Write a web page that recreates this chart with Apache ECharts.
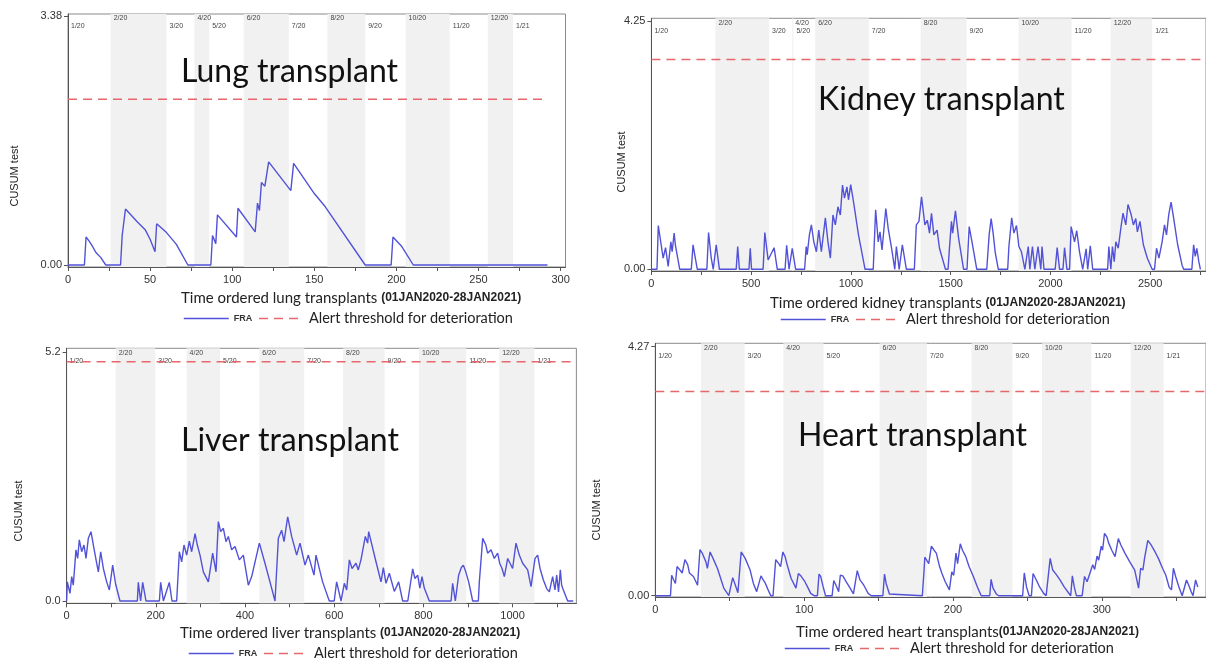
<!DOCTYPE html>
<html><head><meta charset="utf-8">
<script src="https://cdn.jsdelivr.net/npm/echarts@6/dist/echarts.min.js"></script>
<style>html,body{margin:0;padding:0;background:#fff;overflow:hidden}#c{width:1206px;height:662px}</style>
</head><body><div id="c"></div>
<script>
// ---------------- DATA ----------------
const monthLabels = ['1/20','2/20','3/20','4/20','5/20','6/20','7/20','8/20','9/20','10/20','11/20','12/20','1/21'];

const lungMonthStarts   = [0, 26, 60, 77, 86, 107, 134.5, 158, 181, 205.6, 232.5, 255.6, 271];
const kidneyMonthStarts = [0, 321, 590, 706, 712, 821, 1090, 1350, 1580, 1840, 2106, 2302, 2510];
const liverMonthStarts  = [0, 110, 199, 269, 344, 432, 533, 620, 713, 790, 896, 970, 1049];
const heartMonthStarts  = [0, 30.7, 60, 86, 113, 150.7, 182.5, 212.5, 240, 259.8, 293, 319.4, 341.5];

const lungThreshold = 2.25, kidneyThreshold = 3.59, liverThreshold = 5.00, heartThreshold = 3.50;
const lungEnd = 292, kidneyEnd = 2780, liverEnd = 1136, heartEnd = 370;
const lungYTop = 3.38, kidneyYTop = 4.25, liverYTop = 5.2, heartYTop = 4.27;
const lungXMax = 303, kidneyXMax = 2780, liverXMax = 1143, heartXMax = 370;

const lungXLabels   = [0, 50, 100, 150, 200, 250, 300];
const lungXTicks    = [0, 25, 50, 75, 100, 125, 150, 175, 200, 225, 250, 275, 300];
const kidneyXLabels = [0, 500, 1000, 1500, 2000, 2500];
const kidneyXTicks  = [0, 250, 500, 750, 1000, 1250, 1500, 1750, 2000, 2250, 2500, 2750];
const liverXLabels  = [0, 200, 400, 600, 800, 1000];
const liverXTicks   = [0, 100, 200, 300, 400, 500, 600, 700, 800, 900, 1000, 1100];
const heartXLabels  = [0, 100, 200, 300];
const heartXTicks   = [0, 50, 100, 150, 200, 250, 300, 350];

const lungFRA = [[0,0],[10,0],[11,0.38],[13,0.32],[15,0.25],[17,0.17],[20,0.1],[23,0],
 [32,0],[33,0.40],[33.6,0.40],[35,0.76],[42,0.59],[47,0.48],[50,0.35],[53,0.18],[54,0.56],[60,0.44],[66,0.28],[73,0],
 [87,0],[88,0.40],[90,0.29],[91,0.68],[102.6,0.38],[103.5,0.77],[114,0.45],[115.4,0.84],[116.6,0.74],[117.8,1.12],[119.9,1.07],[122.2,1.40],[135.7,1.01],[137.4,1.38],[150,0.97],[156.7,0.79],[181,0],
 [196.8,0],[197.9,0.38],[203.3,0.25],[210.3,0],[292,0]];

const kidneyFRA = [[0,0],[28,0],[34.5,0.75],[59,0.19],[71,0.37],[84,0.05],[97.6,0.47],[104,0.30],[114,0.62],[120,0.42],[142,0],
 [200,0],[208.7,0.42],[230,0],
 [278,0],[286.6,0.63],[300,0.19],[310,0],[324.8,0.42],[341,0],
 [425,0],[432.6,0.39],[441,0],
 [489,0],[495.6,0.36],[502,0],
 [560,0],[568.5,0.63],[585,0.16],[615,0.37],[631,0],
 [670,0],[678,0.41],[690,0],[699,0],[706,0.36],[723,0],
 [768,0],[776,0.39],[781,0.25],[792,0.59],[802,0.76],[814,0.47],[827,0.30],[839,0.67],[852,0.30],[872,0.88],[885,0.47],[897,0.19],[910,0.93],[922,0.76],[935,1.07],[947,0.93],[958,1.44],[968,1.22],[980,1.41],[988,1.19],[999,1.45],[1013,1.16],[1038,0.59],[1071,0],
 [1112,0],[1124,1.02],[1137,0.47],[1146,0.64],[1156,0.33],[1175,1.04],[1187,0.70],[1204,0.36],[1220,0],[1228,0.39],[1242,0],[1258,0.42],[1278,0],
 [1318,0],[1328,0.76],[1341,0.82],[1354,1.24],[1371,0.76],[1383,0.84],[1394,0.62],[1404,0.96],[1416,0.59],[1432,0.67],[1444,0.36],[1474,0],
 [1487,0],[1494,0.36],[1504,0.82],[1510,0.62],[1524,1.0],[1540,0.53],[1565,0],
 [1582,0],[1593,0.73],[1607,0.47],[1631,0],
 [1681,0],[1693,0.59],[1703,0.87],[1713,0.62],[1723,0.30],[1739,0],
 [1786,0],[1792,0.39],[1806,0.88],[1817,0.62],[1830,0.75],[1842,0.39],[1855,0.30],[1872,0],
 [1889,0.39],[1897,0],[1910,0.39],[1922,0],[1938,0.39],[1952,0],[1958,0.39],[1968,0],
 [2024,0],[2034,0.37],[2046,0],[2063,0],[2071,0.37],[2083,0],
 [2096,0],[2104,0.73],[2121,0.47],[2132,0.66],[2146,0.30],[2162,0],[2179,0.35],[2187,0],[2200,0.40],[2212,0],
 [2287,0],[2293,0.39],[2303,0],[2311,0.39],[2320,0.13],[2328,0.47],[2340,0.36],[2353,0.70],[2364,0.96],[2378,0.76],[2389,1.11],[2403,0.96],[2416,0.76],[2428,0.87],[2436,0.64],[2449,0.82],[2466,0.42],[2486,0.19],[2510,0],
 [2522,0],[2532,0.36],[2544,0.19],[2560,0.47],[2572,0.76],[2582,0.59],[2593,0.93],[2605,1.15],[2618,0.87],[2638,0.42],[2660,0.07],[2668,0],
 [2709,0],[2718,0.42],[2726,0.22],[2734,0.36],[2744,0.13],[2752,0]];

const liverFRA = [[0,0],[1.6,0.40],[7.6,0.16],[11.4,0.51],[15,0.33],[21,1.07],[24.8,0.89],[28.5,1.28],[33.8,1.03],[39,1.17],[43.5,0.89],[48.7,1.31],[54.7,1.45],[60,1.17],[67.4,0.79],[71.2,0.61],[76.4,1.03],[82.4,0.68],[89.8,0.40],[95.8,0.23],[103.3,0.75],[110,0.35],[119.7,0],
 [158.6,0],[160.8,0.39],[166,0],[170.6,0.39],[178,0],
 [208,0],[210.9,0.39],[217,0],[230.3,0.39],[236.3,0],
 [246.8,0],[252.8,1.03],[258,0.82],[263.2,1.17],[269.2,0.96],[275.2,1.25],[280.4,1.03],[288,1.41],[293.1,1.17],[299.1,0.96],[306.6,0.61],[317.8,0.40],[327.5,1.00],[335,0.61],[340.2,1.66],[345.4,1.45],[351.4,1.52],[357.4,1.24],[362.6,1.35],[370.1,1.07],[377.6,1.14],[387.3,0.86],[396.3,0.96],[407.5,0.33],[415,0.51],[432.2,1.21],[444.8,0.79],[456,0.40],[467.3,0],
 [474.8,1.31],[482.2,1.48],[487.5,1.24],[495.7,1.76],[504.6,1.35],[515.9,0.96],[523.3,1.21],[534.6,0.75],[542,0.96],[554.7,0.54],[559.2,0.96],[574,0.40],[589,0],
 [600,0],[605.5,0.40],[615.3,0],[622.7,0.37],[628,0.23],[634,0.86],[640,0.68],[648.9,0.79],[654,0.65],[660,0.86],[669.8,1.35],[675,1.21],[677.3,1.45],[693.7,0.82],[705,0.40],[710.2,0.70],[716.1,0.37],[723.6,0.58],[734.8,0.20],[744.5,0.40],[753.5,0],
 [765,0],[776,0.67],[781,0.47],[787.2,0.54],[792,0.27],[796.9,0.51],[802,0.27],[813.3,0],
 [862,0],[865.6,0.37],[871.6,0],[879,0.54],[885.1,0.70],[889.6,0.75],[895,0.61],[901.5,0.40],[910.5,0],
 [923.2,0],[925.4,0.40],[933,1.31],[940,1.17],[944,1.0],[951.6,1.07],[959,0.89],[966.5,1.0],[971,0.79],[976.3,0.68],[981.5,0.51],[989,0.89],[1000,0.68],[1007.6,1.21],[1015,0.96],[1022.6,0.79],[1033.8,0.65],[1041.3,0.30],[1050.3,0.89],[1056.2,0.96],[1061.5,0.68],[1069,0.44],[1076.4,0.26],[1082.4,0.19],[1089.8,0.51],[1095,0.23],[1098.8,0.54],[1103,0.19],[1107,0.65],[1110,0.33],[1113.8,0.23],[1123.5,0],[1136,0]];

const heartFRA = [[0,0],[10.2,0],[11,0.35],[12.4,0.27],[13.5,0.21],[14.6,0.50],[16.3,0.45],[18.1,0.39],[19.9,0.62],[21.8,0.53],[22.9,0.39],[25.6,0.33],[27.3,0.24],[28.4,0.18],[30,0.79],[31.7,0.72],[34,0.58],[35,0.47],[36.8,0.75],[38.8,0.64],[41.7,0.47],[43.9,0.30],[46,0.13],[49.4,0],
 [52,0.31],[53.8,0.18],[55.5,0.05],[57.7,0.75],[60.4,0.64],[63.7,0.44],[65.9,0.21],[68.1,0.07],[71,0.34],[72.5,0.27],[74,0.21],[75.8,0.10],[77.6,0],
 [79.1,0],[80.9,0.62],[82.9,0.55],[84.2,0.50],[85.7,0.75],[87.2,0.67],[88.6,0.53],[91.2,0.30],[94.5,0.13],[96.1,0.38],[97.8,0.34],[100.5,0.24],[102.7,0.13],[104.4,0.04],[106.7,0],
 [108.9,0],[110,0.37],[111.1,0.33],[112.8,0.15],[114.4,0],
 [118.8,0],[119.9,0.26],[121.4,0.18],[123.2,0.07],[124.3,0.35],[126,0.34],[128.2,0.24],[130.9,0.13],[133.1,0.03],[135.7,0.43],[137.5,0.27],[140.1,0.18],[143,0.04],[145.2,0],
 [152.9,0],[154,0.37],[155.1,0.21],[157.3,0.03],[158.4,0],
 [179.4,0],[180.5,0.41],[181.1,0.66],[182.5,0.60],[183.7,0.55],[185.5,0.85],[187.3,0.78],[188.8,0.73],[191,0.50],[192.6,0.38],[194.8,0.24],[197.6,0.10],[199.2,0.41],[200.5,0.35],[202,0.73],[203.1,0.55],[204.9,0.89],[206.4,0.78],[208.6,0.67],[210.8,0.50],[213.7,0.33],[216.4,0.15],[219,0],
 [224.7,0],[225.6,0.28],[226.9,0.13],[229.1,0.03],[230.7,0],
 [246.8,0],[247.9,0.39],[249.4,0.15],[251.2,0],[252.7,0],[253.8,0.38],[256,0.27],[258.2,0.15],[260.9,0.04],[262.6,0],
 [263.7,0],[265.3,0.64],[267,0.44],[269.2,0.37],[271.9,0.27],[274.7,0.15],[277.6,0.05],[279.1,0],[280.2,0.34],[281.5,0.15],[282.9,0],
 [286.8,0],[288.4,0.33],[290.1,0.24],[293.9,0.53],[295.2,0.45],[296.8,0.68],[297.9,0.61],[299.6,0.85],[300.5,0.78],[301.8,1.07],[303.4,1.01],[304.5,0.91],[306.7,0.78],[308.9,0.67],[311.1,0.98],[312.8,0.87],[315.5,0.73],[318.8,0.58],[322.1,0.44],[324.7,0.13],[326.1,0.47],[327.6,0.44],[328.7,0.64],[330.9,0.95],[333.1,0.87],[335.8,0.75],[338,0.64],[340.8,0.47],[343,0.35],[345.2,0.15],[346.8,0.10],[348.1,0.47],[349.6,0.33],[351.8,0.15],[354,0],
 [355.1,0],[356.9,0.27],[358.4,0.18],[360,0.07],[361.3,0],[363,0.27],[364.5,0.15]];

// ---------------- LAYOUT / STYLE ----------------
const FRA_COLOR = '#5252d8';
const THR_COLOR = '#e5686c';
const BAND_COLOR = '#f1f1f1';
const FONT = 'Liberation Sans, Arial, sans-serif';
const TFONT = 'Lato, "Open Sans", sans-serif';

const panels = [
  {name:'lung', fra:lungFRA, months:lungMonthStarts, thr:lungThreshold, end:lungEnd, yTop:lungYTop, xMax:lungXMax,
   xLabels:lungXLabels, xTicks:lungXTicks, digits:2,
   left:68, xPx:1.642, zeroPx:265, topPx:16, frameTop:14, frameBottom:267,
   title:'Lung transplant', titleX:181, titleY:72,
   yNameX:15, yNameY:176, xTitle:['Time ordered lung transplants ','(01JAN2020-28JAN2021)'], xTitleX:181, xTitleY:298,
   legendX:183, legendY:321},
  {name:'kidney', fra:kidneyFRA, months:kidneyMonthStarts, thr:kidneyThreshold, end:kidneyEnd, yTop:kidneyYTop, xMax:kidneyXMax,
   xLabels:kidneyXLabels, xTicks:kidneyXTicks, digits:2,
   left:651.4, xPx:0.201, zeroPx:269.3, topPx:21, frameTop:18.3, frameBottom:271,
   title:'Kidney transplant', titleX:818, titleY:100,
   yNameX:622, yNameY:162, xTitle:['Time ordered kidney transplants ','(01JAN2020-28JAN2021)'], xTitleX:770, xTitleY:303,
   legendX:780, legendY:322},
  {name:'liver', fra:liverFRA, months:liverMonthStarts, thr:liverThreshold, end:liverEnd, yTop:liverYTop, xMax:liverXMax,
   xLabels:liverXLabels, xTicks:liverXTicks, digits:1,
   left:66.6, xPx:0.446, zeroPx:601, topPx:352.3, frameTop:348.3, frameBottom:603.3,
   title:'Liver transplant', titleX:181, titleY:441,
   yNameX:19, yNameY:511, xTitle:['Time ordered liver transplants ','(01JAN2020-28JAN2021)'], xTitleX:180, xTitleY:633,
   legendX:188, legendY:656},
  {name:'heart', fra:heartFRA, months:heartMonthStarts, thr:heartThreshold, end:heartEnd, yTop:heartYTop, xMax:heartXMax,
   xLabels:heartXLabels, xTicks:heartXTicks, digits:2,
   left:655.3, xPx:1.513, zeroPx:595.7, topPx:346.7, frameTop:343.3, frameBottom:597,
   title:'Heart transplant', titleX:798, titleY:436,
   yNameX:597, yNameY:510, xTitle:['Time ordered heart transplants','(01JAN2020-28JAN2021)'], xTitleX:796, xTitleY:632,
   legendX:784, legendY:651}
];

const grids = [], xAxes = [], yAxes = [], series = [], legends = [], graphics = [];

panels.forEach((p, i) => {
  const yPx = (p.zeroPx - p.topPx) / p.yTop;
  const yMin = -(p.frameBottom - p.zeroPx) / yPx;
  const yMax = p.yTop + (p.topPx - p.frameTop) / yPx;
  grids.push({left:p.left, top:p.frameTop, width:p.xMax * p.xPx, height:p.frameBottom - p.frameTop,
    show:true, borderColor:'#8a8a8a', borderWidth:1, backgroundColor:'transparent'});
  xAxes.push({type:'value', gridIndex:i, min:0, max:p.xMax, splitLine:{show:false},
    axisLine:{show:true, onZero:false, lineStyle:{color:'#555', width:1}},
    axisTick:{show:true, length:4, lineStyle:{color:'#555'}, customValues:p.xTicks},
    axisLabel:{customValues:p.xLabels, fontSize:11, color:'#333', fontFamily:FONT, margin:7, formatter: v => String(v)}});
  yAxes.push({type:'value', gridIndex:i, min:yMin, max:yMax, splitLine:{show:false},
    axisLine:{show:true, onZero:false, lineStyle:{color:'#555', width:1}},
    axisTick:{show:true, length:4, lineStyle:{color:'#555'}, customValues:[0, p.yTop]},
    axisLabel:{customValues:[0, p.yTop], fontSize:11, color:'#333', fontFamily:FONT, margin:6,
      formatter: v => v.toFixed(p.digits)}});

  // month bands
  const areas = p.months.map((s, k) => {
    const e = k + 1 < p.months.length ? p.months[k + 1] : p.xMax;
    const shaded = k % 2 === 1;
    return [{xAxis:s, itemStyle:{color: shaded ? BAND_COLOR : 'rgba(0,0,0,0)'},
             label:{offset:[2, shaded ? 0 : 8]}, name: monthLabels[k]},
            {xAxis:e}];
  });
  series.push({type:'line', name:'bands' + i, xAxisIndex:i, yAxisIndex:i, data:[], z:1, silent:true,
    markArea:{silent:true, data:areas,
      label:{show:true, position:'insideTopLeft', distance:1, fontSize:7, color:'#444', fontFamily:FONT}}});
  series.push({type:'line', name:'Alert threshold for deterioration', xAxisIndex:i, yAxisIndex:i, z:2,
    data:[[0, p.thr], [p.end, p.thr]], symbol:'none', silent:true,
    lineStyle:{color:THR_COLOR, width:1.5, type:[9, 6]}, itemStyle:{color:THR_COLOR}});
  series.push({type:'line', name:'FRA', xAxisIndex:i, yAxisIndex:i, z:3, data:p.fra, symbol:'none', silent:true,
    lineStyle:{color:FRA_COLOR, width:1.4}, itemStyle:{color:FRA_COLOR}});

  legends.push({left:p.legendX, top:p.legendY - 10, padding:0, itemWidth:45, itemHeight:10, itemGap:6,
    data:['FRA', 'Alert threshold for deterioration'], selectedMode:false,
    itemStyle:{opacity:0}, lineStyle:{width:1.5},
    formatter: n => n === 'FRA' ? '{s|FRA}' : '{l|' + n + '}',
    textStyle:{rich:{s:{fontSize:9, fontWeight:'bold', fontFamily:FONT, color:'#333'},
                     l:{fontSize:14.5, fontFamily:TFONT, color:'#222'}}}});

  graphics.push({type:'text', x:p.titleX, y:p.titleY, z:100,
    style:{text:p.title, font:'32px ' + TFONT, fill:'#111', textAlign:'left', textVerticalAlign:'middle', align:'left', verticalAlign:'middle'}});
  graphics.push({type:'text', x:p.yNameX, y:p.yNameY, rotation:Math.PI / 2, z:100,
    style:{text:'CUSUM test', font:'11px ' + FONT, fill:'#222', textAlign:'center', textVerticalAlign:'middle', align:'center', verticalAlign:'middle'}});
  graphics.push({type:'text', x:p.xTitleX, y:p.xTitleY, z:100,
    style:{text:'{a|' + p.xTitle[0] + '}{b|' + p.xTitle[1] + '}', textAlign:'left', textVerticalAlign:'middle', align:'left', verticalAlign:'middle',
      rich:{a:{fontSize:15, fontFamily:TFONT, fill:'#222', color:'#222'}, b:{fontSize:12, fontWeight:'bold', fontFamily:FONT, fill:'#222', color:'#222'}}}});
});

const chart = echarts.init(document.getElementById('c'), null, {renderer:'canvas'});
chart.setOption({animation:false, backgroundColor:'#fff', grid:grids, xAxis:xAxes, yAxis:yAxes,
  series:series, legend:legends, graphic:{elements:graphics}});
</script></body></html>
